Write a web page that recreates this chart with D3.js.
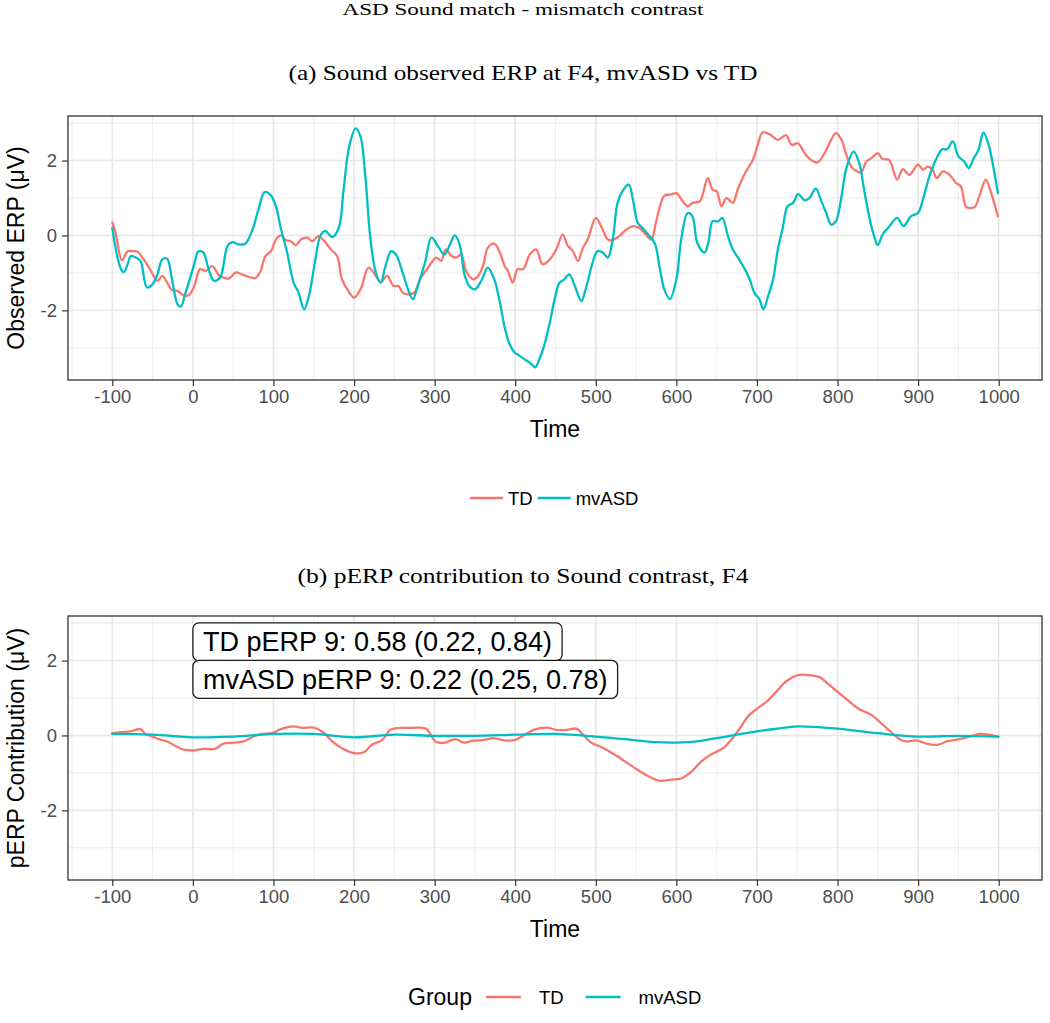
<!DOCTYPE html>
<html><head><meta charset="utf-8">
<script src="https://cdn.jsdelivr.net/npm/d3@7"></script>
<style>body{margin:0;background:#fff}</style>
</head><body>
<svg id="chart" width="1050" height="1023" xmlns="http://www.w3.org/2000/svg"></svg>
<script>
// ---------- data ----------
const groups = ["TD", "mvASD"];
const groupColors = ["#F8766D", "#00BFC4"];
const xTicks = [-100, 0, 100, 200, 300, 400, 500, 600, 700, 800, 900, 1000];
const xTickLabels = ["-100","0","100","200","300","400","500","600","700","800","900","1000"];
const yTicks = [-2, 0, 2];
const yTickLabels = ["-2","0","2"];

// (a) observed ERP, TD
const tdObsTime = [-100,-96,-88,-81,-75,-69,-61,-52,-44,-38,-32,-26,-19,-11,-5,1,9,16,24,33,39,45,53,61,70,78,84,90,97,103,109,115,121,128,134,142,148,156,163,171,179,185,194,200,208,218,227,233,241,249,255,261,269,275,283,292,302,308,314,321,327,333,339,348,354,360,366,374,381,387,391,397,403,410,418,426,434,443,451,459,465,471,478,484,490,500,507,515,521,529,538,546,554,562,569,575,585,593,600,608,614,620,629,639,645,650,656,662,670,676,683,689,695,701,707,716,726,736,743,751,759,767,775,784,790,798,805,811,817,823,829,836,842,850,856,864,874,881,889,900,906,912,918,923,931,939,947,953,960,970,976,984,990,999];
const tdObsValue = [0.35,0.07,-0.66,-0.42,-0.42,-0.43,-0.64,-0.95,-1.21,-1.08,-1.26,-1.46,-1.48,-1.61,-1.59,-1.39,-0.90,-0.95,-0.82,-1.08,-1.13,-1.15,-0.99,-1.04,-1.11,-1.13,-0.95,-0.55,-0.42,-0.11,0.00,-0.12,-0.15,-0.26,-0.11,-0.06,-0.15,-0.02,-0.15,-0.37,-0.55,-1.17,-1.52,-1.66,-1.44,-0.86,-1.08,-1.25,-1.08,-1.35,-1.35,-1.54,-1.57,-1.52,-1.13,-0.86,-0.59,-0.68,-0.37,-0.55,-0.59,-0.51,-0.95,-1.17,-1.08,-0.82,-0.33,-0.22,-0.46,-0.82,-0.95,-1.26,-0.90,-0.90,-0.51,-0.37,-0.77,-0.64,-0.37,0.03,-0.27,-0.40,-0.68,-0.33,-0.11,0.47,0.23,-0.11,-0.12,-0.02,0.16,0.25,0.20,0.03,-0.11,0.38,1.06,1.09,1.13,0.91,0.78,0.87,0.91,1.53,1.22,1.18,0.78,1.00,0.87,1.22,1.57,1.80,2.02,2.42,2.75,2.70,2.55,2.68,2.42,2.46,2.20,2.02,1.95,2.20,2.46,2.73,2.55,2.15,1.84,1.73,1.68,1.98,2.06,2.20,2.04,2.02,1.49,1.77,1.62,1.89,1.76,1.84,1.76,1.53,1.71,1.62,1.40,1.31,0.76,0.76,1.05,1.49,1.18,0.51];

// (a) observed ERP, mvASD
const asdObsTime = [-100,-96,-90,-86,-81,-77,-71,-65,-57,-50,-44,-38,-32,-26,-19,-15,-9,1,7,13,19,26,34,43,49,57,65,74,82,89,96,103,109,117,125,131,138,144,152,158,164,173,181,187,194,202,208,214,220,227,233,239,246,252,261,267,273,279,288,296,304,312,319,325,331,337,343,350,358,366,374,381,387,393,399,405,414,420,425,430,436,443,449,455,461,467,474,482,488,496,502,509,515,521,527,533,541,546,552,558,564,573,579,585,592,600,606,614,620,626,635,640,645,652,657,664,670,679,685,691,697,703,708,714,720,726,732,738,745,751,759,765,773,780,786,792,798,805,811,820,827,833,840,846,850,856,864,874,882,891,900,906,914,922,930,936,943,950,957,963,969,975,981,987,999];
const asdObsValue = [0.20,-0.33,-0.86,-0.98,-0.77,-0.55,-0.59,-0.68,-1.39,-1.30,-1.04,-0.64,-0.62,-1.17,-1.84,-1.90,-1.52,-0.82,-0.42,-0.46,-0.86,-1.21,-1.11,-0.28,-0.18,-0.24,-0.22,0.16,0.74,1.16,1.09,0.78,0.20,-0.46,-1.26,-1.52,-1.97,-1.61,-0.64,-0.02,0.12,-0.04,0.20,1.22,2.38,2.86,2.64,1.58,-0.02,-0.99,-1.26,-0.82,-0.42,-0.51,-1.04,-1.44,-1.70,-1.35,-0.73,-0.06,-0.28,-0.51,-0.24,0.00,-0.24,-1.04,-1.35,-1.44,-1.21,-0.86,-1.17,-1.79,-2.46,-2.90,-3.12,-3.21,-3.34,-3.43,-3.52,-3.30,-2.94,-2.32,-1.70,-1.26,-1.17,-1.04,-1.35,-1.75,-1.39,-0.73,-0.42,-0.46,-0.59,-0.11,0.87,1.18,1.36,0.96,0.34,0.20,0.05,-0.20,-0.82,-1.44,-1.70,-1.17,-0.11,0.60,0.51,-0.20,-0.46,-0.15,0.38,0.38,0.47,-0.02,-0.37,-0.68,-0.90,-1.17,-1.54,-1.70,-1.97,-1.61,-1.17,-0.37,0.20,0.78,0.87,1.11,0.94,1.00,1.25,0.91,0.60,0.29,0.38,1.05,1.80,2.24,1.93,1.22,0.43,-0.06,-0.26,0.03,0.23,0.47,0.25,0.51,0.60,0.96,1.58,2.02,2.30,2.30,2.51,2.11,1.98,1.80,2.06,2.29,2.75,2.46,1.13];

// (b) pERP contribution, TD
const tdContTime = [-100,-90,-77,-65,-59,-50,-42,-32,-21,-11,1,13,27,38,51,63,74,86,98,109,125,136,150,162,173,185,200,212,222,235,245,257,270,280,290,301,311,326,336,348,361,373,386,400,412,423,439,451,464,476,484,495,505,517,530,542,555,567,579,594,606,619,631,643,658,668,679,689,701,712,724,736,751,765,778,790,802,815,827,842,854,867,877,885,898,910,924,936,951,964,976,988,999];
const tdContValue = [0.06,0.09,0.11,0.17,0.04,-0.03,-0.10,-0.16,-0.29,-0.38,-0.40,-0.36,-0.36,-0.22,-0.19,-0.16,-0.04,0.04,0.06,0.17,0.24,0.20,0.21,0.08,-0.16,-0.34,-0.47,-0.45,-0.25,-0.12,0.15,0.20,0.20,0.21,0.17,-0.16,-0.20,-0.10,-0.19,-0.14,-0.12,-0.07,-0.13,-0.12,0.02,0.15,0.21,0.15,0.15,0.18,0.02,-0.20,-0.29,-0.43,-0.60,-0.78,-0.96,-1.11,-1.21,-1.18,-1.15,-0.96,-0.69,-0.51,-0.34,-0.12,0.20,0.51,0.73,0.90,1.17,1.44,1.61,1.61,1.55,1.35,1.13,0.90,0.70,0.55,0.33,0.08,-0.10,-0.16,-0.13,-0.22,-0.25,-0.16,-0.10,-0.03,0.04,0.02,-0.04];

// (b) pERP contribution, mvASD
const asdContTime = [-100,-50,0,50,100,150,200,250,300,350,400,450,500,550,575,600,625,650,700,725,750,775,800,850,900,950,1000];
const asdContValue = [0.04,0.02,-0.05,-0.03,0.04,0.04,-0.05,0.02,-0.01,-0.01,0.02,0.04,-0.03,-0.13,-0.18,-0.19,-0.16,-0.07,0.11,0.18,0.24,0.22,0.18,0.06,-0.03,-0.01,-0.03];

const pLabelText = ["TD pERP 9: 0.58 (0.22, 0.84)", "mvASD pERP 9: 0.22 (0.25, 0.78)"];
const pLabelY = [2.5, 1.5];
const pLabelX = [0, 0];

// ---------- drawing ----------
const svg = d3.select("#chart");
const SANS = "'Liberation Sans', Arial, sans-serif";
const SERIF = "'Liberation Serif', 'Times New Roman', serif";

const x = d3.scaleLinear().domain([-155, 1055]).range([68, 1043]);
const yDomain = [-3.86, 3.19];
const xMinor = d3.range(-150, 1051, 100);
const yMinor = [-3, -1, 1, 3];

function toPts(t, v) { return t.map((d, i) => [d, v[i]]); }

function drawPanel(top, bottom, seriesPts, yLabel) {
  const y = d3.scaleLinear().domain(yDomain).range([bottom, top]);
  const g = svg.append("g");
  const L = x.range()[0], R = x.range()[1] - 1;
  // grid
  g.selectAll(null).data(xMinor).join("line")
    .attr("x1", d => x(d)).attr("x2", d => x(d)).attr("y1", top).attr("y2", bottom)
    .attr("stroke", "#ebebeb").attr("stroke-width", 0.9);
  g.selectAll(null).data(yMinor).join("line")
    .attr("x1", L).attr("x2", R).attr("y1", d => y(d)).attr("y2", d => y(d))
    .attr("stroke", "#ebebeb").attr("stroke-width", 0.9);
  g.selectAll(null).data(xTicks).join("line")
    .attr("x1", d => x(d)).attr("x2", d => x(d)).attr("y1", top).attr("y2", bottom)
    .attr("stroke", "#e6e6e6").attr("stroke-width", 1.5);
  g.selectAll(null).data(yTicks).join("line")
    .attr("x1", L).attr("x2", R).attr("y1", d => y(d)).attr("y2", d => y(d))
    .attr("stroke", "#e6e6e6").attr("stroke-width", 1.5);
  // lines
  const line = d3.line().x(d => x(d[0])).y(d => y(d[1])).curve(d3.curveCatmullRom.alpha(0.5));
  seriesPts.forEach((pts, i) => {
    g.append("path").datum(pts).attr("d", line)
      .attr("fill", "none").attr("stroke", groupColors[i]).attr("stroke-width", 2.3)
      .attr("stroke-linejoin", "round").attr("stroke-linecap", "round");
  });
  // border
  g.append("rect").attr("x", L).attr("y", top).attr("width", R - L).attr("height", bottom - top)
    .attr("fill", "none").attr("stroke", "#333333").attr("stroke-width", 1.3);
  // axes
  const xa = g.append("g").attr("transform", `translate(0,${bottom})`)
    .call(d3.axisBottom(x).tickValues(xTicks).tickFormat((d, i) => xTickLabels[i]).tickSize(6).tickPadding(4));
  const ya = g.append("g").attr("transform", `translate(${L},0)`)
    .call(d3.axisLeft(y).tickValues(yTicks).tickFormat((d, i) => yTickLabels[i]).tickSize(6).tickPadding(5));
  [xa, ya].forEach(a => {
    a.select(".domain").remove();
    a.selectAll(".tick line").attr("stroke", "#333333").attr("stroke-width", 1.2);
    a.selectAll(".tick text").attr("fill", "#4d4d4d").style("font-family", SANS).style("font-size", "18.5px");
  });
  // axis titles
  g.append("text").attr("x", (L + R) / 2).attr("y", bottom + 57).attr("text-anchor", "middle")
    .style("font-family", SANS).style("font-size", "23px").attr("fill", "#000").text("Time");
  g.append("text").attr("transform", `translate(24,${(top + bottom) / 2}) rotate(-90)`)
    .attr("text-anchor", "middle").style("font-family", SANS).style("font-size", "23px")
    .attr("fill", "#000").text(yLabel);
  return { g, y };
}

// titles
function serifTitle(txt, yb, size, len) {
  svg.append("text").attr("x", 523).attr("y", yb).attr("text-anchor", "middle")
    .style("font-family", SERIF).style("font-size", size + "px").attr("fill", "#000")
    .attr("textLength", len).attr("lengthAdjust", "spacingAndGlyphs").text(txt);
}
serifTitle("ASD Sound match - mismatch contrast", 15, 17, 361);
serifTitle("(a) Sound observed ERP at F4, mvASD vs TD", 80, 22, 469);
serifTitle("(b) pERP contribution to Sound contrast, F4", 583, 22, 451);

// panel a
drawPanel(116, 380, [toPts(tdObsTime, tdObsValue), toPts(asdObsTime, asdObsValue)], "Observed ERP (\u03bcV)");
// panel b
const pb = drawPanel(616, 880, [toPts(tdContTime, tdContValue), toPts(asdContTime, asdContValue)], "pERP Contribution (\u03bcV)");

// labels in panel b
pLabelText.forEach((t, i) => {
  const cy = pb.y(pLabelY[i]);
  const x0 = x(pLabelX[i]);
  const gl = pb.g.append("g");
  const rect = gl.append("rect");
  const tx = gl.append("text").attr("x", x0 + 10).attr("y", cy + 9.5)
    .style("font-family", SANS).style("font-size", "27px").attr("fill", "#000").text(t);
  const w = tx.node().getComputedTextLength();
  rect.attr("x", x0).attr("y", cy - 19).attr("width", w + 20).attr("height", 38)
    .attr("rx", 6).attr("ry", 6).attr("fill", "#fff").attr("stroke", "#1a1a1a").attr("stroke-width", 1.3);
});

// legends
function legend(startX, cy, withTitle, gaps) {
  const g = svg.append("g");
  let cx = startX;
  if (withTitle) {
    const tt = g.append("text").attr("x", cx).attr("y", cy + 8.2).style("font-family", SANS)
      .style("font-size", "23px").attr("fill", "#000").text("Group");
    cx += tt.node().getComputedTextLength() + gaps.title;
  }
  groups.forEach((name, i) => {
    g.append("line").attr("x1", cx).attr("x2", cx + gaps.line).attr("y1", cy).attr("y2", cy)
      .attr("stroke", groupColors[i]).attr("stroke-width", 2.6);
    cx += gaps.line + gaps.afterLine;
    const t = g.append("text").attr("x", cx).attr("y", cy + 6.6).style("font-family", SANS)
      .style("font-size", "18.5px").attr("fill", "#000").text(name);
    cx += t.node().getComputedTextLength() + gaps.afterText;
  });
}
legend(470, 498, false, { line: 33, afterLine: 5, afterText: 5 });
legend(408, 997, true, { title: 14, line: 35, afterLine: 18, afterText: 22 });
</script>
</body></html>
